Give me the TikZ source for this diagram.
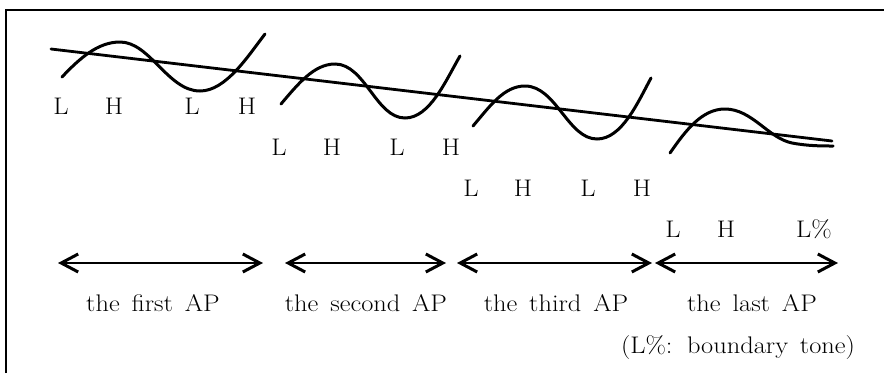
\documentclass[tikz,border=0pt]{standalone}
\usepackage{fontspec}
\usepackage{graphicx}
\usetikzlibrary{arrows.meta}
\newcommand{\wdtext}[1]{\scalebox{1.1}[1]{#1}}
\newcommand{\apwords}[1]{\scalebox{1.1}[1]{\spaceskip=0.45em\relax #1}}
\tikzset{
  frameline/.style={line width=2.2pt},
  wave/.style={line width=3pt, line cap=round},
  decl/.style={line width=2.8pt, line cap=round},
  span/.style={line width=2.4pt, {Straight Barb[length=17pt,width=18pt,line width=3pt]}-{Straight Barb[length=17pt,width=18pt,line width=3pt]}},
  tone/.style={font=\fontsize{24}{28}\selectfont, inner sep=0pt, anchor=base},
  aplabel/.style={font=\fontsize{24}{28}\selectfont, inner sep=0pt, anchor=base}
}
\begin{document}
\begin{tikzpicture}[x=1pt,y=-1pt]
\useasboundingbox (0,0) rectangle (884,373);
% frame
\draw[frameline] (6,373) -- (6,10) -- (884,10);
% declination line
\coordinate (d1) at (51,49);
\coordinate (d2) at (832,141);
\draw[decl] (d1) -- (d2);
% wave 1
\draw[wave] (62,77) .. controls (80,58) and (98,42) .. (120,42)
  .. controls (150,42) and (168,91) .. (200,91)
  .. controls (226,91) and (248,56) .. (265,34);
% wave 2
\draw[wave] (281,104) .. controls (298,84) and (314,64) .. (335,64)
  .. controls (365,64) and (376,118) .. (405,118)
  .. controls (430,118) and (446,80) .. (460,56);
% wave 3
\draw[wave] (473,126) .. controls (490,106) and (504,86) .. (525,86)
  .. controls (556,86) and (568,139) .. (597,139)
  .. controls (622,139) and (638,102) .. (651,78);
% wave 4
\draw[wave] (670,153) .. controls (686,130) and (702,109) .. (725,109)
  .. controls (752,109) and (768,138) .. (792,143)
  .. controls (808,146) and (822,146) .. (833,146);
% tones row 1
\node[tone] (t11) at (61,114) {\wdtext{L}};
\node[tone] (t12) at (114,114) {\wdtext{H}};
\node[tone] (t13) at (192,114) {\wdtext{L}};
\node[tone] (t14) at (247,114) {\wdtext{H}};
% row 2
\node[tone] (t21) at (279,155) {\wdtext{L}};
\node[tone] (t22) at (332,155) {\wdtext{H}};
\node[tone] (t23) at (397,155) {\wdtext{L}};
\node[tone] (t24) at (451,155) {\wdtext{H}};
% row 3
\node[tone] (t31) at (471,196) {\wdtext{L}};
\node[tone] (t32) at (523,196) {\wdtext{H}};
\node[tone] (t33) at (588,196) {\wdtext{L}};
\node[tone] (t34) at (642,196) {\wdtext{H}};
% row 4
\node[tone] (t41) at (673,237) {\wdtext{L}};
\node[tone] (t42) at (726,237) {\wdtext{H}};
\node[tone] (t43) at (814,237) {\wdtext{L\%}};
% spans
\coordinate (a1) at (58,263);  \coordinate (b1) at (263,263);
\coordinate (a2) at (285,263); \coordinate (b2) at (446,263);
\coordinate (a3) at (457,263); \coordinate (b3) at (652,263);
\coordinate (a4) at (655,263); \coordinate (b4) at (838,263);
\draw[span] (a1) -- (b1);
\draw[span] (a2) -- (b2);
\draw[span] (a3) -- (b3);
\draw[span] (a4) -- (b4);
% labels
\node[aplabel] (l1) at (153,311) {\apwords{the first AP}};
\node[aplabel] (l2) at (366,311) {\apwords{the second AP}};
\node[aplabel] (l3) at (556,311) {\apwords{the third AP}};
\node[aplabel] (l4) at (752,311) {\apwords{the last AP}};
\node[aplabel] (l5) at (738,353) {\apwords{(L\%: boundary tone)}};
\end{tikzpicture}
\end{document}
